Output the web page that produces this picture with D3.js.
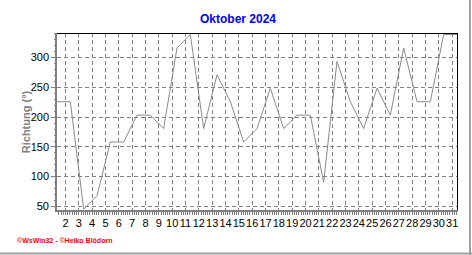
<!DOCTYPE html>
<html>
<head>
<meta charset="utf-8">
<script src="https://cdn.jsdelivr.net/npm/d3@7"></script>
<style>
  html, body { margin: 0; padding: 0; background: #fff; }
  svg { display: block; }
</style>
</head>
<body>
<svg id="chart" width="472" height="255"></svg>
<script>
// ---- data ----
const days = d3.range(1, 32);
const direction = [225, 225, 45, 67.5, 157.5, 157.5, 202.5, 202.5, 180, 315,
                   337.5, 180, 270, 225, 157.5, 180, 247.5, 180, 202.5, 202.5,
                   90, 292.5, 225, 180, 247.5, 202.5, 315, 225, 225, 337.5, 337.5];
const xTickLabels = d3.range(2, 32);
const yTickValues = [50, 100, 150, 200, 250, 300];
const titleText = "Oktober 2024";
const yLabelText = "Richtung (°)";
const footerText = "©WsWin32 - ©Heiko Blödorn";

(function () {
// ---- layout ----
const pL = 57, pR = 457, pT = 33, pB = 211;
const tickShift = 0.6; // labels sit 0.6 day after each data point

const svg = d3.select("#chart");
const x = d3.scaleLinear().domain([1, 31]).range([pL, pR]);
const y = d3.scaleLinear().domain([42, 340]).range([pB, pT]);

// frame at right/bottom of picture
svg.append("line").attr("x1", 470).attr("x2", 470).attr("y1", 0).attr("y2", 255)
  .attr("stroke", "#a0a0a0").attr("stroke-width", 2);
svg.append("line").attr("x1", 0).attr("x2", 472).attr("y1", 253.5).attr("y2", 253.5)
  .attr("stroke", "#a0a0a0").attr("stroke-width", 2);

// gridlines
const grid = svg.append("g").attr("shape-rendering", "crispEdges");
grid.selectAll(".hg").data(yTickValues).join("line")
  .attr("x1", pL).attr("x2", pR)
  .attr("y1", d => Math.round(y(d)) + 0.5).attr("y2", d => Math.round(y(d)) + 0.5)
  .attr("stroke", "#808080").attr("stroke-dasharray", "4,3");
grid.selectAll(".vg").data(xTickLabels).join("line")
  .attr("x1", d => Math.round(x(d - 1 + tickShift)) + 0.5)
  .attr("x2", d => Math.round(x(d - 1 + tickShift)) + 0.5)
  .attr("y1", pT).attr("y2", pB)
  .attr("stroke", "#808080").attr("stroke-dasharray", "4,3");

// top & right border
svg.append("path")
  .attr("d", `M${pL},${pT + 0.5}H${pR + 0.5}V${pB}`)
  .attr("fill", "none").attr("stroke", "#000").attr("shape-rendering", "crispEdges");

// data line
const line = d3.line().x((d, i) => x(days[i])).y(d => y(d));
svg.append("path").datum(direction)
  .attr("d", line).attr("fill", "none")
  .attr("stroke", "#8a8a8a").attr("stroke-width", 1);

// y axis (major + minor)
const yMinor = d3.range(50, 341, 10);
const yAxisMinor = d3.axisLeft(y).tickValues(yMinor).tickSize(2).tickFormat("");
const yAxis = d3.axisLeft(y).tickValues(yTickValues).tickSize(5).tickPadding(2);
const gyMinor = svg.append("g").attr("transform", `translate(${pL - 1},0)`).call(yAxisMinor);
const gy = svg.append("g").attr("transform", `translate(${pL - 1},0)`).call(yAxis);
[gy, gyMinor].forEach(g => {
  g.attr("shape-rendering", "crispEdges");
  g.select(".domain").remove();
  g.selectAll("line").attr("stroke", "#808080");
});
gy.selectAll("text").attr("font-family", "Liberation Sans, Arial, sans-serif")
  .attr("font-size", 11).attr("fill", "#000");
svg.append("line").attr("x1", pL - 1).attr("x2", pL - 1).attr("y1", pT).attr("y2", pB + 1)
  .attr("stroke", "#808080").attr("stroke-width", 2);

// x axis (major + minor)
const xMinor = d3.range(tickShift, 31.01, 1 / 6).filter(v => v >= 1 && v <= 31);
const xAxisMinor = d3.axisBottom(x).tickValues(xMinor).tickSize(3).tickFormat("");
const xAxis = d3.axisBottom(x).tickValues(xTickLabels.map(d => d - 1 + tickShift))
  .tickSize(3).tickPadding(4).tickFormat((d, i) => xTickLabels[i]);
const gxMinor = svg.append("g").attr("transform", `translate(0,${pB + 1})`).call(xAxisMinor);
const gx = svg.append("g").attr("transform", `translate(0,${pB + 1})`).call(xAxis);
[gx, gxMinor].forEach(g => {
  g.attr("shape-rendering", "crispEdges");
  g.select(".domain").remove();
  g.selectAll("line").attr("stroke", "#808080");
});
gx.selectAll("text").attr("font-family", "Liberation Sans, Arial, sans-serif")
  .attr("font-size", 11).attr("fill", "#000");
svg.append("line").attr("x1", pL - 2).attr("x2", pR + 1).attr("y1", pB).attr("y2", pB)
  .attr("stroke", "#808080").attr("stroke-width", 2);

// title
svg.append("text").attr("x", 238).attr("y", 23).attr("text-anchor", "middle")
  .attr("font-family", "Liberation Sans, Arial, sans-serif").attr("font-weight", "bold")
  .attr("font-size", 12).attr("fill", "#0000ff").text(titleText);

// y label
svg.append("text").attr("transform", "translate(30,122) rotate(-90)")
  .attr("text-anchor", "middle")
  .attr("font-family", "Liberation Sans, Arial, sans-serif").attr("font-weight", "bold")
  .attr("font-size", 11).attr("fill", "#808080").text(yLabelText);

// footer
svg.append("text").attr("x", 17).attr("y", 243)
  .attr("font-family", "Liberation Sans, Arial, sans-serif").attr("font-weight", "bold")
  .attr("font-size", 7).attr("fill", "#ff0000").text(footerText);
})();
</script>
</body>
</html>
